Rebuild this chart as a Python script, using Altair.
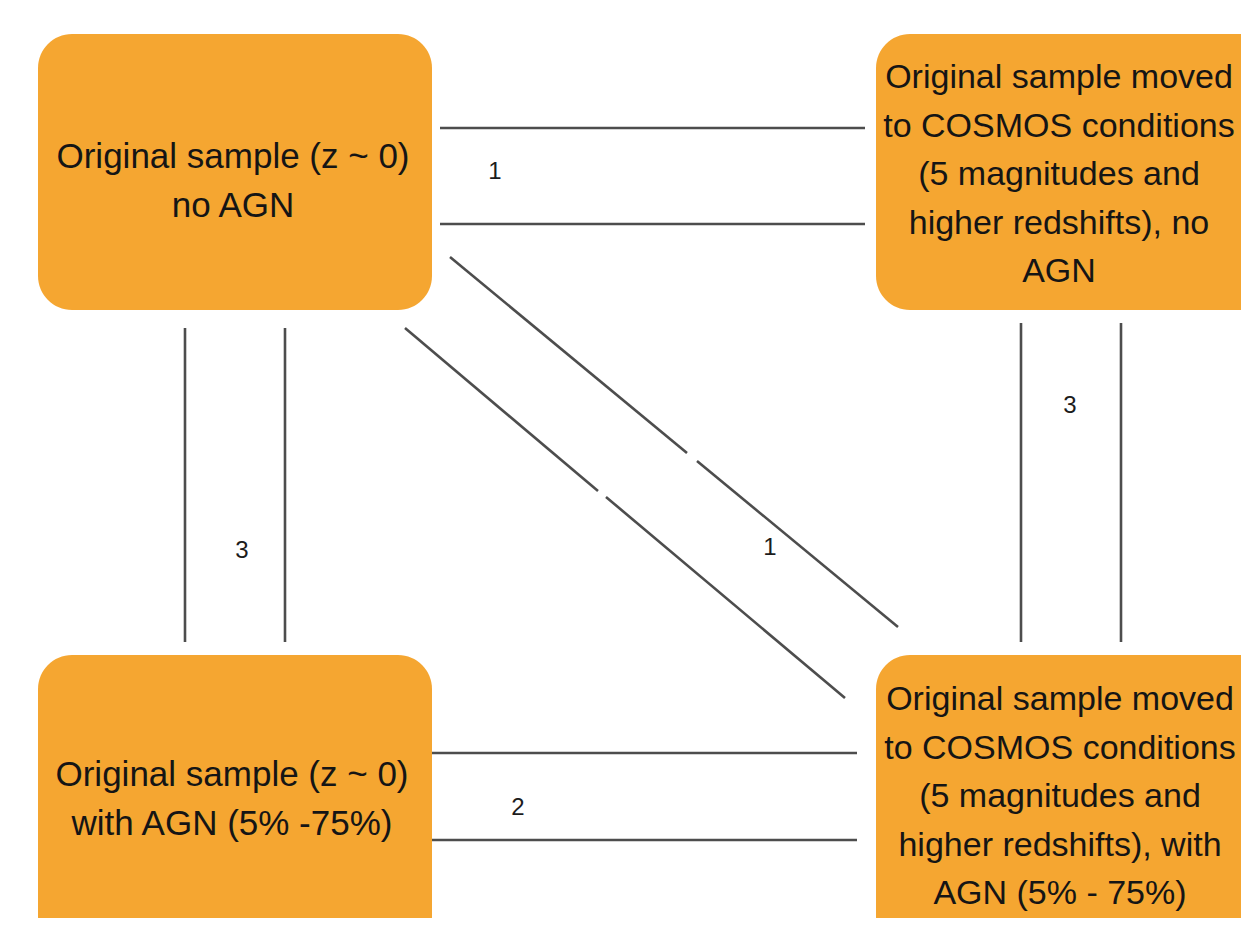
import altair as alt
import pandas as pd

# ---- diagram content (image-pixel coordinate system) ----
box_names = ["orig_noagn", "cosmos_noagn", "orig_agn", "cosmos_agn"]
box_x0 = [38, 876, 38, 876]
box_x1 = [432, 1275, 432, 1275]
box_y0 = [34, 34, 655, 655]
box_y1 = [310, 310, 950, 950]

left_texts = [
    "Original sample (z ~ 0)\nno AGN",
    "Original sample (z ~ 0)\nwith AGN (5% -75%)",
]
right_texts = [
    "Original sample moved\nto COSMOS conditions\n(5 magnitudes and\nhigher redshifts), no\nAGN",
    "Original sample moved\nto COSMOS conditions\n(5 magnitudes and\nhigher redshifts), with\nAGN (5% - 75%)",
]
# centre of the first line of each text block
left_x = [233, 232]
left_y = [157, 775]
right_x = [1059, 1060]
right_y = [78, 700]

# connector segments
seg_x0 = [440, 440, 432, 432, 185, 285, 1021, 1121, 450, 697, 405, 606]
seg_y0 = [128, 224, 753, 840, 328, 328, 323, 323, 257, 461, 328, 497]
seg_x1 = [865, 865, 857, 857, 185, 285, 1021, 1121, 687, 898, 598, 845]
seg_y1 = [128, 224, 753, 840, 642, 642, 642, 642, 453, 627, 491, 698]

label_text = ["1", "3", "3", "1", "2"]
label_x = [495, 242, 1070, 770, 518]
label_y = [172, 551, 406, 548, 808]

boxes = pd.DataFrame({"name": box_names, "x0": box_x0, "x1": box_x1,
                      "y0": box_y0, "y1": box_y1})
ltexts = pd.DataFrame({"t": left_texts, "x": left_x, "y": left_y})
rtexts = pd.DataFrame({"t": right_texts, "x": right_x, "y": right_y})
segs = pd.DataFrame({"x0": seg_x0, "y0": seg_y0, "x1": seg_x1, "y1": seg_y1})
labels = pd.DataFrame({"t": label_text, "x": label_x, "y": label_y})

W, H = 1233, 910
xs = alt.Scale(domain=[8, 8 + W], nice=False, zero=False)
ys = alt.Scale(domain=[8, 8 + H], nice=False, zero=False, reverse=True)

rects = alt.Chart(boxes).mark_rect(
    color="#F5A631", cornerRadius=34, clip=True
).encode(
    x=alt.X("x0:Q", scale=xs, axis=None), x2="x1:Q",
    y=alt.Y("y0:Q", scale=ys, axis=None), y2="y1:Q",
)

rules = alt.Chart(segs).mark_rule(
    color="#4d4d4d", strokeWidth=2.6, clip=True
).encode(
    x=alt.X("x0:Q", scale=xs, axis=None), x2="x1:Q",
    y=alt.Y("y0:Q", scale=ys, axis=None), y2="y1:Q",
)


def block(df, size):
    return alt.Chart(df).mark_text(
        font="Liberation Sans", fontSize=size, lineBreak="\n", lineHeight=48.5,
        align="center", baseline="middle", color="#151515"
    ).encode(
        x=alt.X("x:Q", scale=xs, axis=None),
        y=alt.Y("y:Q", scale=ys, axis=None),
        text="t:N",
    )


left_block = block(ltexts, 35)
right_block = block(rtexts, 34)

lab = alt.Chart(labels).mark_text(
    font="Liberation Sans", fontSize=24, align="center", baseline="middle",
    color="#1c1c1c"
).encode(
    x=alt.X("x:Q", scale=xs, axis=None),
    y=alt.Y("y:Q", scale=ys, axis=None),
    text="t:N",
)

chart = alt.layer(rects, rules, left_block, right_block, lab).properties(
    width=W, height=H, padding=0, autosize=alt.AutoSizeParams(type="none")
).configure_view(stroke=None)

chart.save("out.html", embed_options={"renderer": "svg", "actions": False})
